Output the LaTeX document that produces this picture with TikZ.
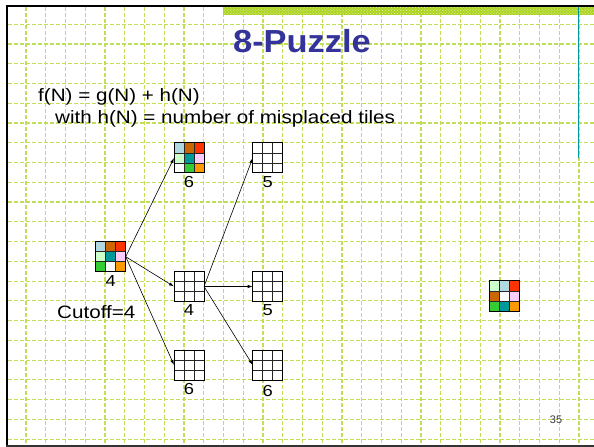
\documentclass[tikz,border=0pt]{standalone}
\usepackage{fontspec}
\setmainfont{Liberation Sans}
\newfontfamily\bodyfont[FakeStretch=1.15]{Liberation Sans}
\newfontfamily\titlefont[FakeStretch=1.08]{Liberation Sans}
\usetikzlibrary{arrows.meta,patterns}
\definecolor{gridgreen}{RGB}{192,222,90}
\definecolor{bandgreen}{RGB}{172,212,30}
\definecolor{titleblue}{RGB}{51,51,153}
\definecolor{plblue}{RGB}{176,216,224}
\definecolor{pbrown}{RGB}{204,102,0}
\definecolor{pred}{RGB}{255,51,0}
\definecolor{plgreen}{RGB}{204,255,204}
\definecolor{pteal}{RGB}{0,153,153}
\definecolor{ppink}{RGB}{255,204,255}
\definecolor{pgreen}{RGB}{51,204,51}
\definecolor{porange}{RGB}{255,153,0}
\definecolor{numgrey}{RGB}{60,60,60}
\tikzset{
  bggrid/.style={gridgreen, line width=1.1bp, dash pattern=on 4bp off 2bp},
  puz/.style={minimum size=30bp, inner sep=0pt, outer sep=0pt},
  cellline/.style={black!85, line width=0.8bp},
  puzframe/.style={black, line width=1bp},
  arr/.style={black, line width=0.6bp, -{Latex[length=5bp,width=3.2bp]}},
  lab/.style={font=\bodyfont\fontsize{16}{16}\selectfont, anchor=base, inner sep=0pt},
  body/.style={font=\bodyfont\fontsize{18}{18}\selectfont, anchor=base west, inner sep=0pt},
  titletext/.style={font=\titlefont\bfseries\fontsize{32}{32}\selectfont, text=titleblue, anchor=base, inner sep=0pt},
}
\newcommand\puzzle[4]{%
  \node[puz] (#1) at (#2,#3) {};
  \foreach \cc [count=\ii from 0] in {#4} {
    \pgfmathtruncatemacro\rr{div(\ii,3)}
    \pgfmathtruncatemacro\qq{mod(\ii,3)}
    \fill[\cc] ({#2-15+10*\qq},{#3-15+10*\rr}) rectangle ++(10,10);
  }
  \foreach \kk in {1,2} {
    \draw[cellline] ({#2-15+10*\kk},{#3-15}) -- ++(0,30);
    \draw[cellline] ({#2-15},{#3-15+10*\kk}) -- ++(30,0);
  }
  \draw[puzframe] (#1.north west) rectangle (#1.south east);
}
\begin{document}
\begin{tikzpicture}[x=1bp,y=-1bp]
\useasboundingbox (0,0) rectangle (594,447);
\fill[white] (0,0) rectangle (594,447);
% background grid
\foreach \k in {0,...,28} \draw[bggrid] ({26+19.75*\k},7) -- ({26+19.75*\k},445);
\foreach \k in {0,...,21} \draw[bggrid] (8,{24.3+19.75*\k}) -- (594,{24.3+19.75*\k});
% top band
\fill[bandgreen] (222.5,7.5) rectangle (594,15);
\fill[pattern=crosshatch dots, pattern color=white!70!bandgreen] (222.5,7.5) rectangle (594,15);
% teal line
\draw[pteal, line width=1bp] (578.3,7) -- (578.3,158);
% frame
\draw[black, line width=2.3bp] (7.2,446) -- (7.2,6) -- (594,6);
\draw[black!80, line width=2bp] (6,445.5) -- (594,445.5);
% texts
\node[titletext] (title) at (302,53) {8-Puzzle};
\node[body] (f) at (38,101.5) {f(N) = g(N) + h(N)};
\node[body] (w) at (55,123.5) {with h(N) = number of misplaced tiles};
\node[body] (cut) at (57,318) {Cutoff=4};
\node[font=\fontsize{11}{11}\selectfont, text=numgrey, anchor=base, inner sep=0pt] (pg) at (556,423) {35};
% puzzles
\puzzle{s}{110.7}{256.7}{plblue,pbrown,pred,plgreen,pteal,ppink,pgreen,white,porange}
\puzzle{c1}{189}{158}{plblue,pbrown,pred,plgreen,pteal,ppink,white,pgreen,porange}
\puzzle{c2}{189}{286.5}{white,white,white,white,white,white,white,white,white}
\puzzle{c3}{189}{365}{white,white,white,white,white,white,white,white,white}
\puzzle{g1}{267.7}{158}{white,white,white,white,white,white,white,white,white}
\puzzle{g2}{267.7}{286.5}{white,white,white,white,white,white,white,white,white}
\puzzle{g3}{267.7}{365}{white,white,white,white,white,white,white,white,white}
\puzzle{goal}{504.3}{296}{plgreen,plblue,pred,pbrown,white,ppink,pgreen,pteal,porange}
% labels
\node[lab] (sl) at (110.7,287) {4};
\node[lab] (c1l) at (189,188) {6};
\node[lab] (c2l) at (189,315) {4};
\node[lab] (c3l) at (189,394) {6};
\node[lab] (g1l) at (267.7,188) {5};
\node[lab] (g2l) at (267.7,315) {5};
\node[lab] (g3l) at (267.7,396) {6};
% arrows
\draw[arr] (s.east) -- (c1.west);
\draw[arr] (s.east) -- (c2.west);
\draw[arr] (s.east) -- (c3.west);
\draw[arr] (c2.east) -- (g1.west);
\draw[arr] (c2.east) -- (g2.west);
\draw[arr] (c2.east) -- (g3.west);
\end{tikzpicture}
\end{document}
